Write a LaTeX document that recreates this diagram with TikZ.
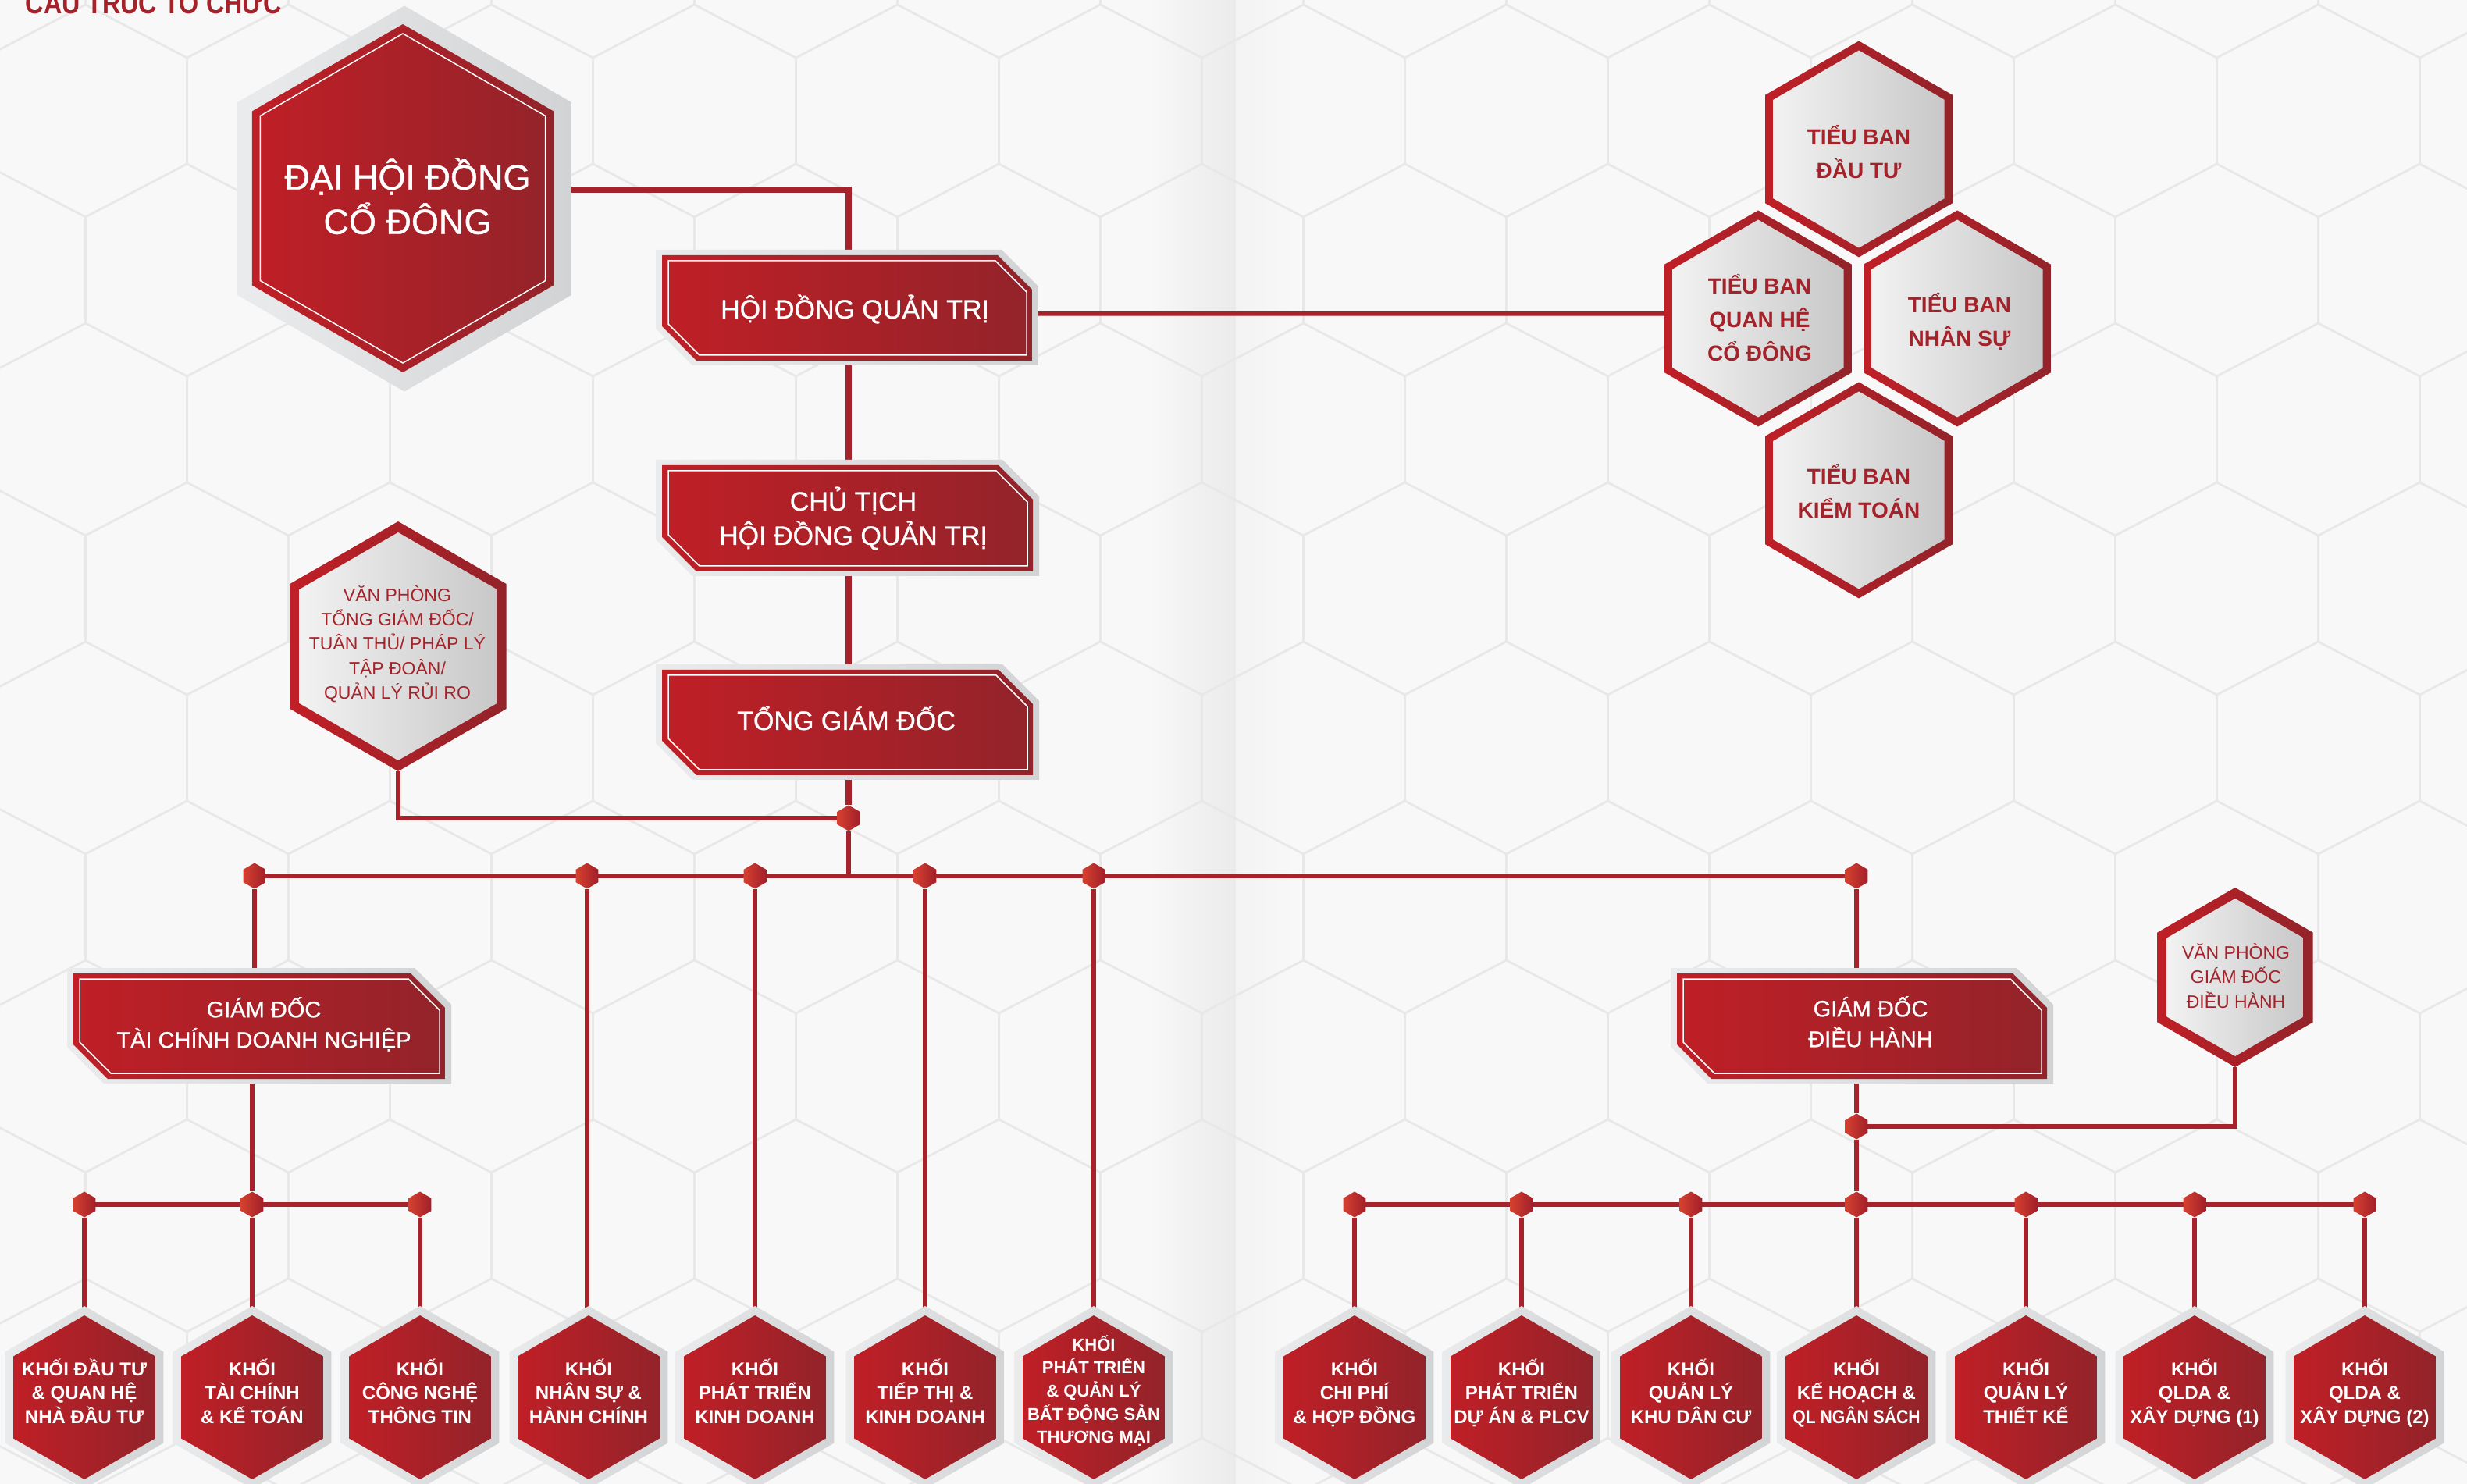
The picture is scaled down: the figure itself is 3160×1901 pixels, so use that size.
\documentclass[tikz,border=0pt]{standalone}
\usepackage{fontspec}
\setmainfont{Liberation Sans}
\newfontfamily\medfont[FakeBold=0.8]{Liberation Sans}
\definecolor{redL}{HTML}{C01F26}
\definecolor{redR}{HTML}{93232A}
\definecolor{lineR}{HTML}{A6232B}
\definecolor{greyL}{HTML}{EAEBEC}
\definecolor{greyR}{HTML}{D1D3D5}
\definecolor{fillL}{HTML}{F3F2F2}
\definecolor{fillR}{HTML}{C9C8C8}
\definecolor{bg}{HTML}{F8F8F8}
\definecolor{gridc}{HTML}{E8E8E8}
\definecolor{foldA}{HTML}{EBEBEB}
\definecolor{foldB}{HTML}{F3F3F3}
\definecolor{dotL}{HTML}{D5412F}
\definecolor{dotR}{HTML}{A21F2A}
\definecolor{txtR}{HTML}{A4222A}
\pgfdeclarelayer{bgl}
\pgfdeclarelayer{lines}
\pgfdeclarelayer{shapes}
\pgfsetlayers{bgl,lines,shapes,main}
% pointy-top regular hexagon: centre x, centre y, circumradius (pixel units)
\newcommand\hexat[3]{({#1},{#2-(#3)}) -- ({#1+0.8660254*(#3)},{#2-0.5*(#3)}) -- ({#1+0.8660254*(#3)},{#2+0.5*(#3)}) -- ({#1},{#2+(#3)}) -- ({#1-0.8660254*(#3)},{#2+0.5*(#3)}) -- ({#1-0.8660254*(#3)},{#2-0.5*(#3)}) -- cycle}
% box with cut top-right and bottom-left corners
\newcommand\cutbox[5]{({#1},{#2}) -- ({#3-#5},{#2}) -- ({#3},{#2+#5}) -- ({#3},{#4}) -- ({#1+#5},{#4}) -- ({#1},{#4-#5}) -- cycle}
\newcommand\redbox[4]{%
  \shade[greyshade] \cutbox{#1-8}{#2-7}{#3+8}{#4+6}{47};
  \shade[redshade] \cutbox{#1}{#2}{#3}{#4}{44};
  \draw[innerline] \cutbox{#1+8}{#2+7}{#3-7}{#4-7}{40};}
\newcommand\redhex[3]{%
  \shade[greyshade] \hexat{#1}{#2}{#3+12};
  \shade[redshade] \hexat{#1}{#2}{#3};}
\newcommand\borderhex[4]{%
  \shade[redshade] \hexat{#1}{#2}{#3};
  \shade[fillshade] \hexat{#1}{#2}{#3-#4};}
\newcommand\stt{\rule[-.25\baselineskip]{0pt}{\baselineskip}}
\tikzset{
  gridline/.style={draw=gridc, line width=0.025cm},
  conn/.style={draw=lineR, line width=0.055cm},
  connthick/.style={draw=lineR, line width=0.075cm},
  redshade/.style={left color=redL, right color=redR},
  greyshade/.style={left color=greyL, right color=greyR},
  fillshade/.style={left color=fillL, right color=fillR},
  dotshade/.style={left color=dotL, right color=dotR},
  innerline/.style={draw=white, line width=0.015cm},
  anc/.style={draw=none, fill=none, inner sep=0pt, outer sep=0pt},
  txtbase/.style={inner sep=0pt, outer sep=0pt, align=center},
  bigtxt/.style={txtbase, text=white, font=\medfont\fontsize{12.8pt}{16.2pt}\selectfont},
  boxtxt/.style={txtbase, text=white, font=\medfont\fontsize{9.67pt}{12.5pt}\selectfont},
  gdtxt/.style={txtbase, text=white, font=\medfont\fontsize{8.25pt}{11.1pt}\selectfont},
  khoitxt/.style={txtbase, text=white, font=\bfseries\fontsize{6.83pt}{8.68pt}\selectfont},
  khoismall/.style={txtbase, text=white, font=\bfseries\fontsize{6.26pt}{8.45pt}\selectfont},
  tbtxt/.style={txtbase, text=txtR, font=\bfseries\fontsize{7.97pt}{12.2pt}\selectfont},
  vptxt/.style={txtbase, text=txtR, font=\fontsize{6.54pt}{8.93pt}\selectfont},
  titletxt/.style={inner sep=0pt, text=txtR, font=\bfseries\fontsize{10.8pt}{12pt}\selectfont}
}
\begin{document}
\begin{tikzpicture}[x=0.01cm,y=-0.01cm]
\useasboundingbox (0,0) rectangle (3160,1901);

% ---------------- background ----------------
\begin{pgfonlayer}{bgl}
  \fill[bg] (0,0) rectangle (3160,1901);
  \shade[left color=bg, right color=foldA] (1470,0) rectangle (1583,1901);
  \shade[left color=foldB, right color=bg] (1583,0) rectangle (1660,1901);
  \foreach \k in {-5,...,5}{
    \pgfmathsetmacro\cy{958+204*\k}
    \pgfmathsetmacro\off{ifthenelse(mod(\k+10,2)==0,369.5,239.5)}
    \foreach \j in {-2,...,12}{
      \pgfmathsetmacro\cx{\off+260*\j}
      \draw[gridline] ({\cx},{\cy-136}) -- ({\cx+130},{\cy-68}) -- ({\cx+130},{\cy+68}) -- ({\cx},{\cy+136}) -- ({\cx-130},{\cy+68}) -- ({\cx-130},{\cy-68}) -- cycle;
    }
  }
\end{pgfonlayer}

% ---------------- title (cut by the top edge, as in the reference) ----------------
\begin{scope}
  \clip (0,0) rectangle (3160,1901);
  \node[titletxt, anchor=base west] (title) at (32,18) {\scalebox{0.85}[1]{CẤU TRÚC TỔ CHỨC}};
\end{scope}

% ---------------- anchor nodes ----------------
\node[anc, minimum width=3.86cm, minimum height=4.46cm] (dh) at (516,254) {};
\node[anc, minimum width=4.74cm, minimum height=1.35cm] (hdqt) at (1085,394.5) {};
\node[anc, minimum width=4.75cm, minimum height=1.36cm] (ct) at (1085.5,664) {};
\node[anc, minimum width=4.75cm, minimum height=1.35cm] (tgd) at (1085.5,925.5) {};
\node[anc, minimum width=4.76cm, minimum height=1.35cm] (gdtc) at (332,1314.5) {};
\node[anc, minimum width=4.74cm, minimum height=1.35cm] (gddh) at (2385,1314.5) {};
\node[anc, minimum width=2.78cm, minimum height=3.2cm] (vptgd) at (510,828) {};
\node[anc, minimum width=2.0cm, minimum height=2.3cm] (vpgd) at (2863,1252) {};
\node[anc, minimum width=2.4cm, minimum height=2.77cm] (tbdt) at (2381,191) {};
\node[anc, minimum width=2.4cm, minimum height=2.77cm] (tbqh) at (2252,408) {};
\node[anc, minimum width=2.4cm, minimum height=2.77cm] (tbns) at (2507,408) {};
\node[anc, minimum width=2.4cm, minimum height=2.77cm] (tbkt) at (2381,628) {};
\foreach \n/\x in {h1/108,h2/323,h3/538,h4/754,h5/967,h6/1185,h7/1401,h8/1735,h9/1949,h10/2166,h11/2378,h12/2595,h13/2811,h14/3029}{
  \node[anc, minimum width=1.82cm, minimum height=2.1cm] (\n) at (\x,1790) {};
  \begin{pgfonlayer}{shapes}\redhex{\x}{1790}{105}\end{pgfonlayer}
}
\foreach \n/\x/\y in {j1/1087/1048,b1/326/1122,b2/752/1122,b3/967/1122,b4/1185/1122,b5/1401/1122,b6/2378/1122,s1/108/1543,s2/323/1543,s3/538/1543,j2/2378/1443,r1/1735/1543,r2/1949/1543,r3/2166/1543,r4/2378/1543,r5/2595/1543,r6/2811/1543,r7/3029/1543}{
  \node[anc, minimum width=0.28cm, minimum height=0.33cm] (\n) at (\x,\y) {};
  \begin{pgfonlayer}{shapes}\shade[dotshade] \hexat{\x}{\y}{16.5};\end{pgfonlayer}
}

% ---------------- shapes ----------------
\begin{pgfonlayer}{shapes}
  \shade[greyshade] \hexat{518}{254.5}{247};
  \shade[redshade] \hexat{516}{254}{223};
  \draw[innerline] \hexat{516}{254}{211};
  \redbox{848}{327}{1322}{462}
  \redbox{848}{596}{1323}{732}
  \redbox{848}{858}{1323}{993}
  \redbox{94}{1247}{570}{1382}
  \redbox{2148}{1247}{2622}{1382}
  \borderhex{510}{828}{160}{14}
  \borderhex{2863}{1252}{115}{14}
  \borderhex{2381}{191}{138.5}{12}
  \borderhex{2252}{408}{138.5}{12}
  \borderhex{2507}{408}{138.5}{12}
  \borderhex{2381}{628}{138.5}{12}
\end{pgfonlayer}

% ---------------- connectors ----------------
\begin{pgfonlayer}{lines}
  \draw[connthick] ([yshift=0.11cm]dh.east) -| (j1 |- hdqt.north);
  \draw[conn] ([yshift=-0.075cm]hdqt.east) -- ([yshift=0.06cm]tbqh.west);
  \draw[connthick] (j1 |- hdqt.south) -- (j1 |- ct.north);
  \draw[connthick] (j1 |- ct.south) -- (j1 |- tgd.north);
  \draw[connthick] (j1 |- tgd.south) -- (j1);
  \draw[conn] (vptgd.south) |- (j1);
  \draw[conn] (j1) -- (j1 |- b1);
  \draw[conn] (b1) -- (b6);
  \draw[conn] (b1) -- (b1 |- gdtc.north);
  \draw[conn] (b2) -- (b2 |- h4.north);
  \draw[conn] (b3) -- (b3 |- h5.north);
  \draw[conn] (b4) -- (b4 |- h6.north);
  \draw[conn] (b5) -- (b5 |- h7.north);
  \draw[conn] (b6) -- (b6 |- gddh.north);
  \draw[conn] (s2 |- gdtc.south) -- (s2);
  \draw[conn] (s1) -- (s3);
  \draw[conn] (s1) -- (s1 |- h1.north);
  \draw[conn] (s2) -- (s2 |- h2.north);
  \draw[conn] (s3) -- (s3 |- h3.north);
  \draw[conn] (j2 |- gddh.south) -- (j2);
  \draw[conn] (vpgd.south) |- (j2);
  \draw[conn] (j2) -- (r4);
  \draw[conn] (r1) -- (r7);
  \draw[conn] (r1) -- (r1 |- h8.north);
  \draw[conn] (r2) -- (r2 |- h9.north);
  \draw[conn] (r3) -- (r3 |- h10.north);
  \draw[conn] (r4) -- (r4 |- h11.north);
  \draw[conn] (r5) -- (r5 |- h12.north);
  \draw[conn] (r6) -- (r6 |- h13.north);
  \draw[conn] (r7) -- (r7 |- h14.north);
\end{pgfonlayer}

% ---------------- texts ----------------
\node[bigtxt] (dh-t) at (522,257) {\stt ĐẠI HỘI ĐỒNG\\CỔ ĐÔNG\stt};
\node[boxtxt] (hdqt-t) at (1095,397) {\stt HỘI ĐỒNG QUẢN TRỊ};
\node[boxtxt] (ct-t) at (1093,665) {\stt CHỦ TỊCH\\HỘI ĐỒNG QUẢN TRỊ\stt};
\node[boxtxt] (tgd-t) at (1084,924) {\stt TỔNG GIÁM ĐỐC};
\node[gdtxt] (gdtc-t) at (338,1313) {\stt GIÁM ĐỐC\\TÀI CHÍNH DOANH NGHIỆP\stt};
\node[gdtxt] (gddh-t) at (2396,1312) {\stt GIÁM ĐỐC\\ĐIỀU HÀNH\stt};
\node[vptxt] (vptgd-t) at (509,825) {\stt VĂN PHÒNG\\TỔNG GIÁM ĐỐC/\\TUÂN THỦ/ PHÁP LÝ\\TẬP ĐOÀN/\\QUẢN LÝ RỦI RO\stt};
\node[vptxt] (vpgd-t) at (2864,1252) {\stt VĂN PHÒNG\\GIÁM ĐỐC\\ĐIỀU HÀNH\stt};
\node[tbtxt] (tbdt-t) at (2381,196) {\stt TIỂU BAN\\ĐẦU TƯ\stt};
\node[tbtxt] (tbqh-t) at (2254,409) {\stt TIỂU BAN\\QUAN HỆ\\CỔ ĐÔNG\stt};
\node[tbtxt] (tbns-t) at (2510,411) {\stt TIỂU BAN\\NHÂN SỰ\stt};
\node[tbtxt] (tbkt-t) at (2381,631) {\stt TIỂU BAN\\KIỂM TOÁN\stt};

\node[khoitxt] (h1-t) at (108,1785) {\stt KHỐI ĐẦU TƯ\\\& QUAN HỆ\\NHÀ ĐẦU TƯ\stt};
\node[khoitxt] (h2-t) at (323,1785) {\stt KHỐI\\TÀI CHÍNH\\\& KẾ TOÁN\stt};
\node[khoitxt] (h3-t) at (538,1785) {\stt KHỐI\\CÔNG NGHỆ\\THÔNG TIN\stt};
\node[khoitxt] (h4-t) at (754,1785) {\stt KHỐI\\NHÂN SỰ \&\\HÀNH CHÍNH\stt};
\node[khoitxt] (h5-t) at (967,1785) {\stt KHỐI\\PHÁT TRIỂN\\KINH DOANH\stt};
\node[khoitxt] (h6-t) at (1185,1785) {\stt KHỐI\\TIẾP THỊ \&\\KINH DOANH\stt};
\node[khoismall] (h7-t) at (1401,1782) {\stt KHỐI\\PHÁT TRIỂN\\\& QUẢN LÝ\\BẤT ĐỘNG SẢN\\THƯƠNG MẠI\stt};
\node[khoitxt] (h8-t) at (1735,1785) {\stt KHỐI\\CHI PHÍ\\\& HỢP ĐỒNG\stt};
\node[khoitxt] (h9-t) at (1949,1785) {\stt KHỐI\\PHÁT TRIỂN\\DỰ ÁN \& PLCV\stt};
\node[khoitxt] (h10-t) at (2166,1785) {\stt KHỐI\\QUẢN LÝ\\KHU DÂN CƯ\stt};
\node[khoitxt] (h11-t) at (2378,1785) {\stt KHỐI\\KẾ HOẠCH \&\\\scalebox{0.88}[1]{QL NGÂN SÁCH}\stt};
\node[khoitxt] (h12-t) at (2595,1785) {\stt KHỐI\\QUẢN LÝ\\THIẾT KẾ\stt};
\node[khoitxt] (h13-t) at (2811,1785) {\stt KHỐI\\QLDA \&\\XÂY DỰNG (1)\stt};
\node[khoitxt] (h14-t) at (3029,1785) {\stt KHỐI\\QLDA \&\\XÂY DỰNG (2)\stt};
\end{tikzpicture}
\end{document}
